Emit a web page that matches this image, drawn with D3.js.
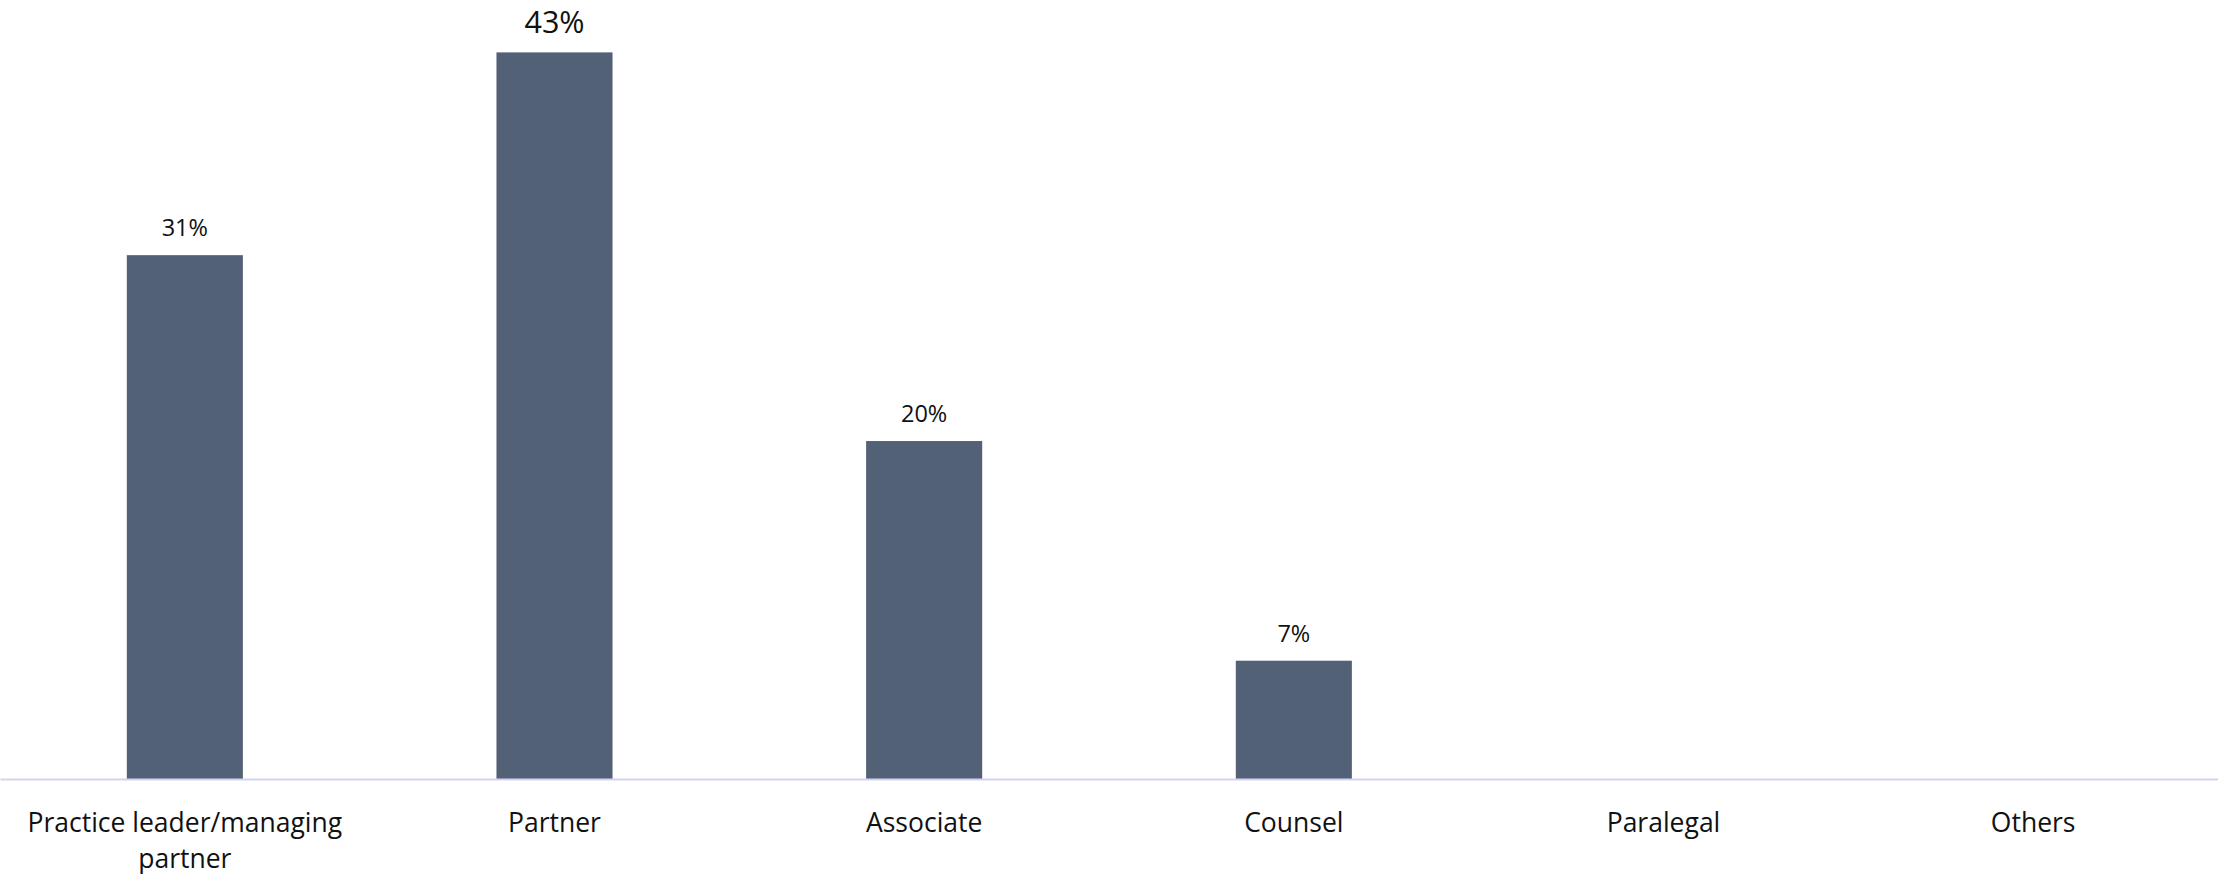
<!DOCTYPE html>
<html>
<head>
<meta charset="utf-8">
<script src="https://cdn.jsdelivr.net/npm/d3@7"></script>
<style>
  html, body { margin: 0; padding: 0; background: #ffffff; }
  svg { display: block; }
</style>
</head>
<body>
<svg id="chart" width="2218" height="874"></svg>
<script>
const categories = ["Practice leader/managing partner", "Partner", "Associate", "Counsel", "Paralegal", "Others"];
const values = [31, 43, 20, 7, null, null];
const valueLabels = ["31%", "43%", "20%", "7%", "", ""];

const W = 2218, H = 874;
const baseY = 779;
const svg = d3.select("#chart");
const font = "'Open Sans', 'Noto Sans', sans-serif";

const x = d3.scaleBand().domain(categories).range([0, W]).paddingInner(0.686).paddingOuter(0.343);
const y = d3.scaleLinear().domain([0, 46.1]).range([baseY, 0]);

const data = categories.map((c, i) => ({ c, v: values[i], label: valueLabels[i] }));

// bars
svg.append("g").selectAll("rect")
  .data(data.filter(d => d.v != null))
  .join("rect")
  .attr("x", d => x(d.c))
  .attr("width", x.bandwidth())
  .attr("y", d => y(d.v))
  .attr("height", d => y(0) - y(d.v))
  .attr("fill", "#536176");

// value labels
svg.append("g").selectAll("text")
  .data(data.filter(d => d.v != null))
  .join("text")
  .attr("x", d => x(d.c) + x.bandwidth() / 2)
  .attr("y", d => y(d.v) - 19)
  .attr("text-anchor", "middle")
  .attr("font-family", font)
  .attr("font-size", d => d.v === 43 ? 30.5 : 23.5)
  .attr("fill", "#111")
  .text(d => d.label);

// x axis
const axis = d3.axisBottom(x).tickSize(0).tickSizeOuter(0);
const gx = svg.append("g").attr("transform", `translate(0,${baseY})`).call(axis);
gx.select(".domain").attr("stroke", "#d3d3ef").attr("stroke-width", 2);
gx.selectAll(".tick text").remove();

const wrapLines = {"Practice leader/managing partner": ["Practice leader/managing", "partner"]};
gx.selectAll(".tick").each(function(d) {
  const lines = wrapLines[d] || [d];
  const t = d3.select(this).append("text")
    .attr("text-anchor", "middle")
    .attr("font-family", font)
    .attr("font-size", 26.5)
    .attr("fill", "#111");
  lines.forEach((ln, i) => {
    t.append("tspan").attr("x", 0).attr("y", 52.5 + i * 36).text(ln);
  });
});
</script>
</body>
</html>
